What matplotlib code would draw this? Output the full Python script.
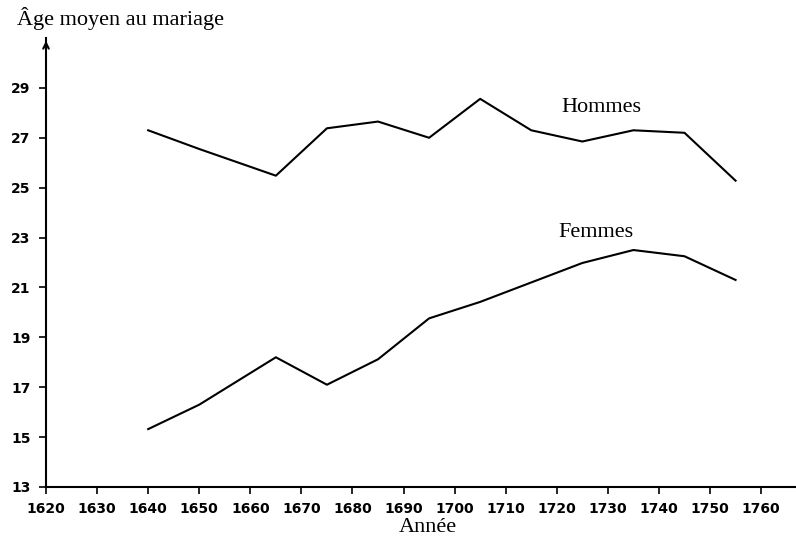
import matplotlib
matplotlib.use("Agg")
import matplotlib.pyplot as plt

annees = [1640, 1650, 1665, 1675, 1685, 1695, 1705, 1715, 1725, 1735, 1745, 1755]
hommes = [27.3, 26.55, 25.48, 27.38, 27.65, 27.0, 28.56, 27.3, 26.85, 27.3, 27.2, 25.28]
femmes = [15.32, 16.3, 18.2, 17.1, 18.12, 19.76, 20.42, 21.2, 21.98, 22.5, 22.25, 21.3]

xticks = list(range(1620, 1770, 10))
yticks = list(range(13, 30, 2))

fig = plt.figure(figsize=(7.96, 5.42), dpi=100)
ax = fig.add_axes([0.0578, 0.1015, 0.942, 0.8284])

ax.plot(annees, hommes, color="black", lw=1.5)
ax.plot(annees, femmes, color="black", lw=1.5)

ax.set_xlim(1620, 1766.8)
ax.set_ylim(13, 31)

ax.spines["top"].set_visible(False)
ax.spines["right"].set_visible(False)
ax.spines["left"].set_linewidth(1.5)
ax.spines["bottom"].set_linewidth(1.5)

ax.set_xticks(xticks)
ax.set_yticks(yticks)
ax.tick_params(axis="both", direction="out", length=5, width=1.2, labelsize=10, pad=6)
for lab in ax.get_xticklabels() + ax.get_yticklabels():
    lab.set_fontweight("bold")
    lab.set_family("DejaVu Sans")

# arrow at top of y axis
ax.annotate("", xy=(0, 1.0), xycoords="axes fraction", xytext=(0, 0.97),
            arrowprops=dict(arrowstyle="->", color="black", lw=1.5))

serif = "Liberation Serif"
fig.text(17/796, 1 - 18/542, "Âge moyen au mariage", family=serif, fontsize=16,
         ha="left", va="center")
fig.text(428/796, 1 - 528/542, "Année", family=serif, fontsize=16,
         ha="center", va="center")

ax.text(1720.8, 28.2, "Hommes", family=serif, fontsize=16, ha="left", va="center")
ax.text(1720.4, 23.2, "Femmes", family=serif, fontsize=16, ha="left", va="center")

fig.savefig("out.png", dpi=100)
